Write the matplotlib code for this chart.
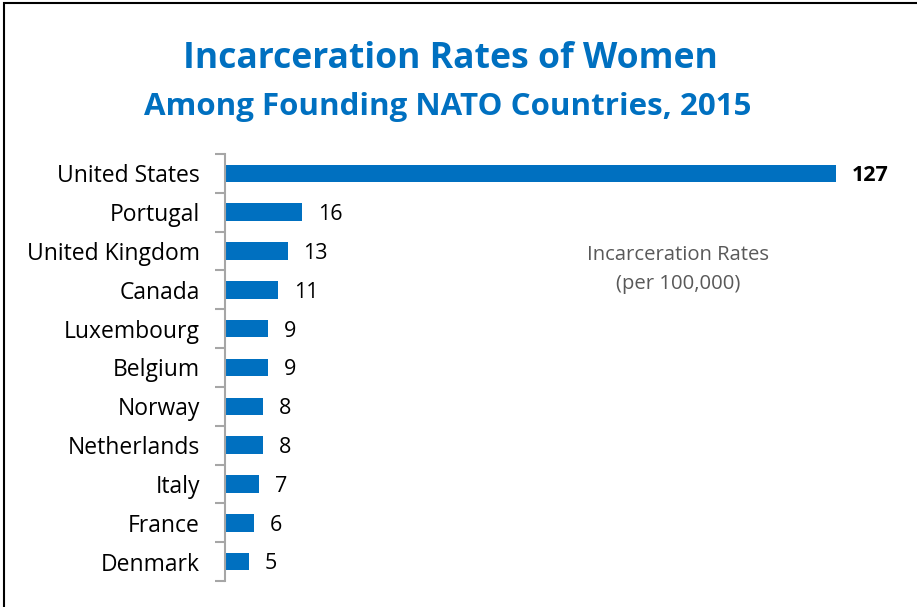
import matplotlib.pyplot as plt
from matplotlib.patches import Rectangle
from matplotlib.ticker import FixedLocator

countries = ["United States", "Portugal", "United Kingdom", "Canada", "Luxembourg",
             "Belgium", "Norway", "Netherlands", "Italy", "France", "Denmark"]
rates = [127, 16, 13, 11, 9, 9, 8, 8, 7, 6, 5]

plt.rcParams["font.family"] = ["Open Sans", "DejaVu Sans"]

W, H = 917, 607
fig = plt.figure(figsize=(W / 100, H / 100), dpi=100)
ax = fig.add_axes([225 / W, 1 - 581 / H, (836 - 225) / W, (581 - 154) / H])

pos = list(range(len(countries)))
ax.barh(pos, rates, height=0.45, color="#0070C0")
ax.set_xlim(0, 127)
ax.set_ylim(len(countries) - 0.5, -0.5)

for p, v in zip(pos, rates):
    ax.text(v + 3.3, p + 0.06, str(v), va="center", ha="left", fontsize=15.5,
            fontweight="bold" if v == max(rates) else "normal", color="black")

ax.set_yticks(pos)
ax.set_yticklabels(countries, fontsize=16.5)
ax.tick_params(axis="y", which="major", length=0, pad=18)
ax.yaxis.set_minor_locator(FixedLocator([i - 0.5 for i in range(len(countries) + 1)]))
ax.tick_params(axis="y", which="minor", length=7, width=1.5, color="#A6A6A6")
ax.set_xticks([])
for s in ["top", "right", "bottom"]:
    ax.spines[s].set_visible(False)
ax.spines["left"].set_color("#A6A6A6")
ax.spines["left"].set_linewidth(1.5)

fig.text(450 / W, 1 - 59 / H, "Incarceration Rates of Women", ha="center", va="center",
         fontsize=25.6, fontweight="bold", color="#0070C0")
fig.text(448 / W, 1 - 107 / H, "Among Founding NATO Countries, 2015", ha="center", va="center",
         fontsize=22.5, fontweight="bold", color="#0070C0")
fig.text(678 / W, 1 - 269 / H, "Incarceration Rates\n(per 100,000)", ha="center", va="center",
         fontsize=14.6, color="#595959", linespacing=1.6)

fig.patches.append(Rectangle((4 / W, -0.01), 1.0, 1 - 3 / H + 0.01, transform=fig.transFigure,
                             fill=False, edgecolor="black", linewidth=1.5))

fig.savefig("out.png", dpi=100)
